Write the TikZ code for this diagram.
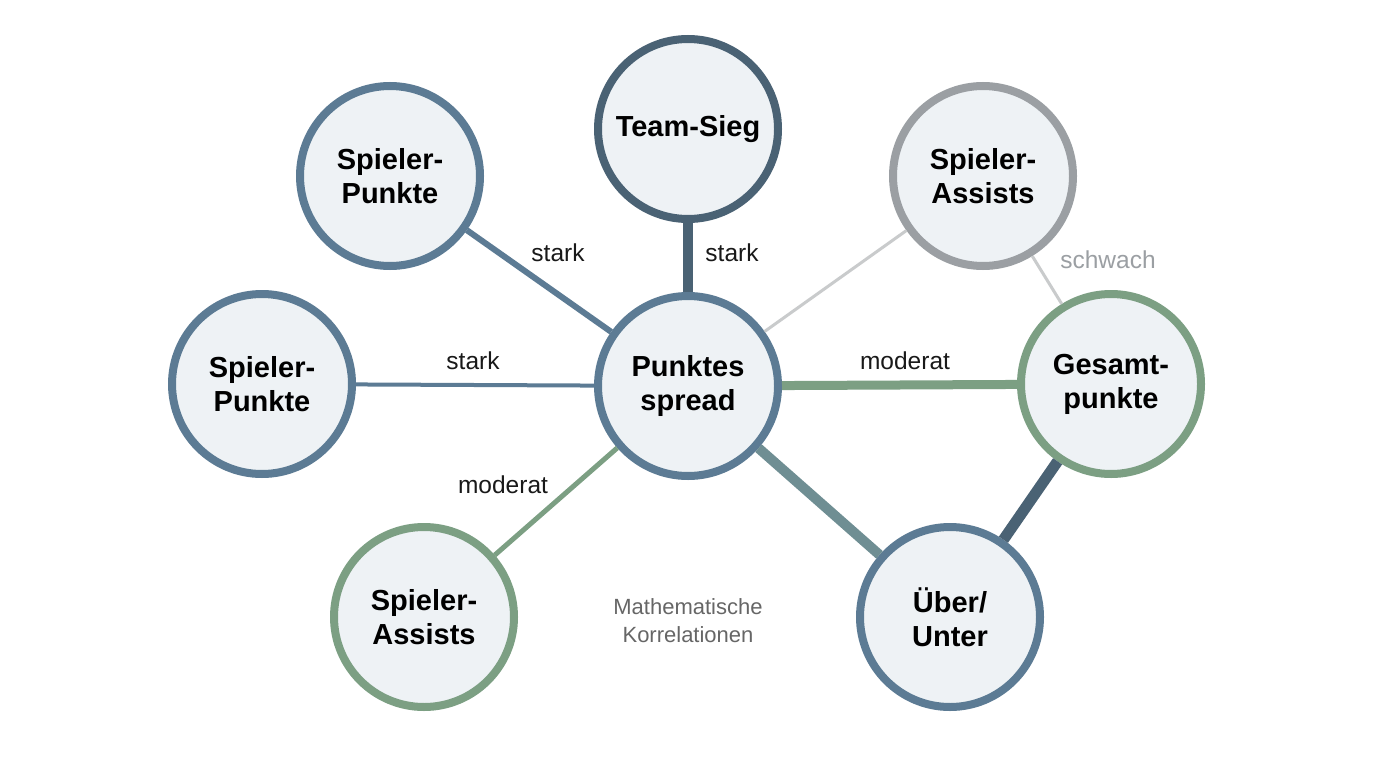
\documentclass[tikz,border=0pt]{standalone}
\usepackage{fontspec}
\setmainfont{Liberation Sans}
\begin{document}
\begin{tikzpicture}[x=1pt,y=-1pt,
  bub/.style={circle,draw=bluestroke,fill=bubfill,line width=8pt,minimum size=180pt,inner sep=0pt,
    align=center,font=\fontsize{29}{34}\selectfont\bfseries,text=black},
  elab/.style={font=\fontsize{24.5}{28}\selectfont,text=black!90},
  conn/.style={line cap=butt}
]
\definecolor{bluestroke}{HTML}{5C7B94}
\definecolor{darkstroke}{HTML}{4A6274}
\definecolor{greenstroke}{HTML}{7C9F83}
\definecolor{graystroke}{HTML}{9B9FA3}
\definecolor{bubfill}{HTML}{EEF2F5}
\definecolor{lightedge}{HTML}{C9CBCC}
\definecolor{midedge}{HTML}{6F8E93}
\useasboundingbox[fill=white] (0,0) rectangle (1376,768);

\node[bub] (center) at (688,386) {Punktes\\spread};
\node[bub,draw=darkstroke] (team) at (688,129) {Team-Sieg};
\node[bub] (tlp) at (390,176) {Spieler-\\Punkte};
\node[bub] (lp) at (262,384) {Spieler-\\Punkte};
\node[bub,draw=greenstroke] (bla) at (424,617) {Spieler-\\Assists};
\node[bub] (uu) at (950,617) {Über/\\Unter};
\node[bub,draw=greenstroke] (gp) at (1111,384) {Gesamt-\\punkte};
\node[bub,draw=graystroke] (tra) at (983,176) {Spieler-\\Assists};

\draw[conn,darkstroke,line width=10pt] (team) -- (center);
\draw[conn,bluestroke,line width=6pt] (tlp) -- (center);
\draw[conn,bluestroke,line width=4pt] (lp) -- (center);
\draw[conn,greenstroke,line width=5pt] (bla) -- (center);
\draw[conn,greenstroke,line width=9pt] (center) -- (gp);
\draw[conn,midedge,line width=10pt] (center) -- (uu);
\draw[conn,darkstroke,line width=11pt] (gp) -- (uu);
\draw[conn,lightedge,line width=3pt] (center) -- (tra);
\draw[conn,lightedge,line width=3pt] (tra) -- (gp);

\node[elab] (l1) at (558,253) {stark};
\node[elab] (l2) at (732,253) {stark};
\node[elab] (l3) at (473,361) {stark};
\node[elab] (l4) at (905,361) {moderat};
\node[elab] (l5) at (503,485) {moderat};
\node[elab,text=graystroke] (l6) at (1108,260) {schwach};
\node[font=\fontsize{22}{28}\selectfont,text=black!60,align=center] (title) at (688,621) {Mathematische\\Korrelationen};
\end{tikzpicture}
\end{document}
